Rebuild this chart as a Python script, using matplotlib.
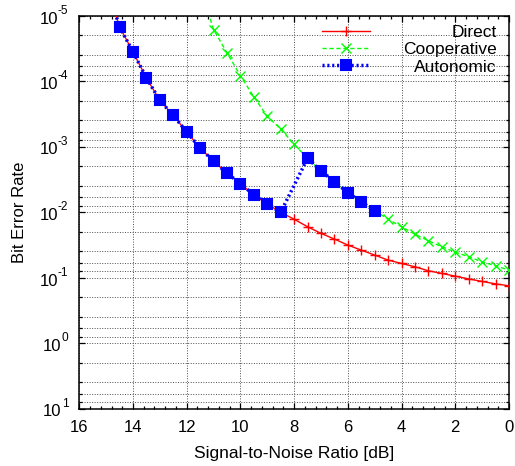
import numpy as np
import matplotlib
matplotlib.use("Agg")
import matplotlib.pyplot as plt
from matplotlib.ticker import MultipleLocator, LogLocator, NullFormatter
from matplotlib.transforms import blended_transform_factory, offset_copy

plt.rcParams['font.family'] = ['Liberation Sans', 'DejaVu Sans']

# ---- data ----
snr_direct = [15.0, 14.5, 14.0, 13.5, 13.0, 12.5, 12.0, 11.5, 11.0, 10.5, 10.0,
              9.5, 9.0, 8.5, 8.0, 7.5, 7.0, 6.5, 6.0, 5.5, 5.0, 4.5, 4.0, 3.5,
              3.0, 2.5, 2.0, 1.5, 1.0, 0.5, 0.0]
ber_direct = [3.4e-6, 1.49e-5, 3.6e-5, 9.0e-5, 1.98e-4, 3.36e-4, 6.0e-4, 1.06e-3,
              1.67e-3, 2.56e-3, 3.69e-3, 5.5e-3, 7.55e-3, 1.01e-2, 1.29e-2, 1.68e-2,
              2.12e-2, 2.59e-2, 3.2e-2, 3.82e-2, 4.55e-2, 5.43e-2, 6.1e-2, 6.87e-2,
              7.9e-2, 8.67e-2, 9.55e-2, 0.105, 0.115, 0.125, 0.134]

snr_coop = [11.5, 11.0, 10.5, 10.0, 9.5, 9.0, 8.5, 8.0, 7.5, 7.0, 6.5, 6.0, 5.5,
            5.0, 4.5, 4.0, 3.5, 3.0, 2.5, 2.0, 1.5, 1.0, 0.5, 0.0]
ber_coop = [3.6e-6, 1.64e-5, 3.72e-5, 8.3e-5, 1.75e-4, 3.47e-4, 5.4e-4, 9.3e-4,
            1.51e-3, 2.36e-3, 3.43e-3, 5.07e-3, 7.03e-3, 9.55e-3, 1.29e-2, 1.68e-2,
            2.19e-2, 2.75e-2, 3.4e-2, 4.09e-2, 4.83e-2, 5.77e-2, 6.64e-2, 7.73e-2]

snr_auto = [15.0, 14.5, 14.0, 13.5, 13.0, 12.5, 12.0, 11.5, 11.0, 10.5, 10.0,
            9.5, 9.0, 8.5, 7.5, 7.0, 6.5, 6.0, 5.5, 5.0]
ber_auto = [3.4e-6, 1.49e-5, 3.6e-5, 9.0e-5, 1.98e-4, 3.36e-4, 6.0e-4, 1.06e-3,
            1.67e-3, 2.56e-3, 3.69e-3, 5.5e-3, 7.55e-3, 1.01e-2,
            1.51e-3, 2.36e-3, 3.43e-3, 5.07e-3, 7.03e-3, 9.55e-3]

labels = ["Direct", "Cooperative", "Autonomic"]
y_exponents = [-5, -4, -3, -2, -1, 0, 1]

# ---- figure ----
fig = plt.figure(figsize=(5.15, 4.66), dpi=100)
ax = fig.add_axes([79.3 / 515, 1 - 408.5 / 466, (509 - 79.3) / 515, (408.5 - 15.5) / 466])

ax.plot(snr_direct, ber_direct, color='#ff0000', lw=1.0, ls='-', marker='+',
        ms=7.5, mew=1.0, label=labels[0], zorder=3)
ax.plot(snr_coop, ber_coop, color='#00ff00', lw=1.0, ls=(0, (3, 2)), marker='x',
        ms=7.5, mew=1.0, label=labels[1], zorder=3)
ax.plot(snr_auto, ber_auto, color='#0000ff', lw=2.5, ls=(0, (0.6, 0.8)), marker='s',
        ms=6.5, mew=1.5, mfc='#0000ff', mec='#0000ff', label=labels[2], zorder=4)

ax.set_yscale('log')
ax.set_xlim(16, 0)
ax.set_ylim(10.0 ** y_exponents[-1], 10.0 ** y_exponents[0])

ax.xaxis.set_major_locator(MultipleLocator(2))
ax.xaxis.set_minor_locator(MultipleLocator(0.4))
ax.yaxis.set_major_locator(LogLocator(base=10, numticks=20))
ax.yaxis.set_minor_locator(LogLocator(base=10, subs=[2, 4, 6, 8], numticks=20))
ax.yaxis.set_minor_formatter(NullFormatter())

ax.tick_params(which='both', direction='in', top=True, right=True, width=0.9,
               labelsize=12, colors='black')
ax.tick_params(which='major', length=4.5, pad=8)
ax.tick_params(which='minor', length=2.3)
ax.tick_params(axis='y', labelleft=False)

for s in ax.spines.values():
    s.set_linewidth(1.1)

ax.grid(which='major', axis='both', color='0.3', ls=(0, (1, 1.6)), lw=0.7)
ax.grid(which='minor', axis='y', color='0.3', ls=(0, (1, 1.6)), lw=0.7)
ax.set_axisbelow(True)

ax.set_xlabel('Signal-to-Noise Ratio [dB]', fontsize=12.5, labelpad=8.5)
ax.set_ylabel('Bit Error Rate', fontsize=12)
ax.yaxis.set_label_coords(-0.122, 0.5)

# y tick labels drawn as "10" + raised exponent (gnuplot style)
trans = blended_transform_factory(ax.transAxes, ax.transData)
exp_texts = []
for e in y_exponents:
    t = ax.text(0, 10.0 ** e, str(e), fontsize=8.6, ha='right', va='baseline',
                transform=offset_copy(trans, fig=fig, x=-11, y=1.7, units='dots'),
                clip_on=False)
    exp_texts.append(t)

leg = ax.legend(loc='upper right', bbox_to_anchor=(0.972, 0.977), frameon=False,
                fontsize=12.5, handlelength=2.76, handletextpad=1.9, labelspacing=0.13,
                borderpad=0, borderaxespad=0, numpoints=1)
fig.canvas.draw()
renderer = fig.canvas.get_renderer()

for e, t in zip(y_exponents, exp_texts):
    w = t.get_window_extent(renderer).width
    ax.text(0, 10.0 ** e, '10', fontsize=12, ha='right', va='baseline',
            transform=offset_copy(trans, fig=fig, x=-11 - w, y=-8.0, units='dots'),
            clip_on=False)

widths = [t.get_window_extent(renderer).width for t in leg.get_texts()]
shift = max(widths)
for t, w in zip(leg.get_texts(), widths):
    t.set_position((shift - w, 0))

fig.savefig('out.png', dpi=100)
